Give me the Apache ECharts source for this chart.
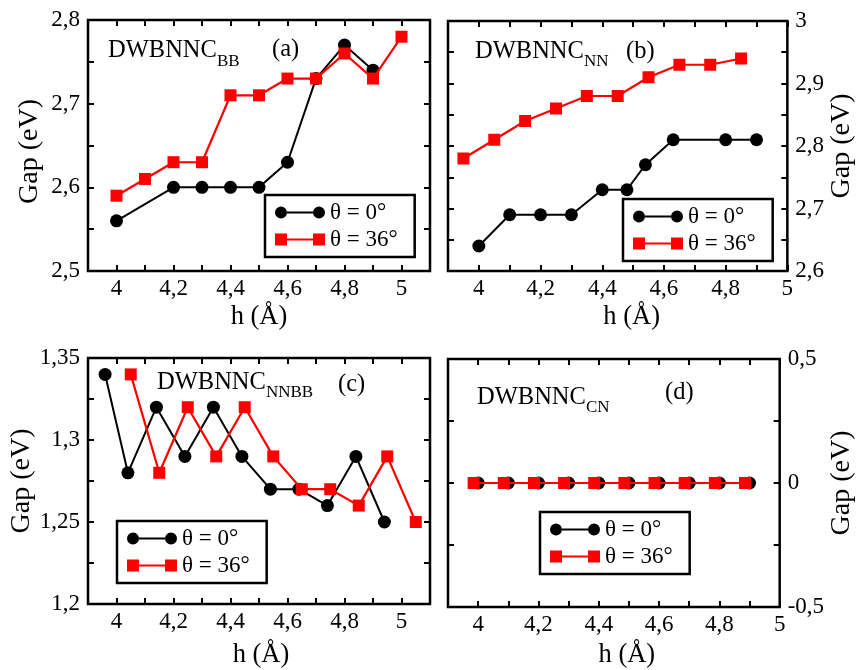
<!DOCTYPE html>
<html>
<head>
<meta charset="utf-8">
<script src="https://cdn.jsdelivr.net/npm/echarts@6/dist/echarts.min.js"></script>
<style>html,body{margin:0;padding:0;background:#fff;}#c{width:857px;height:670px;}</style>
</head>
<body>
<div id="c"></div>
<script>
// ---- data ----
const seriesNames = ['θ = 0°', 'θ = 36°'];
const xTickLabels = ['4', '4,2', '4,4', '4,6', '4,8', '5'];

// (a) DWBNNC_BB
const aX0 = [4.0, 4.2, 4.3, 4.4, 4.5, 4.6, 4.7, 4.8, 4.9];
const aY0 = [2.56, 2.60, 2.60, 2.60, 2.60, 2.63, 2.73, 2.77, 2.74];
const aX36 = [4.0, 4.1, 4.2, 4.3, 4.4, 4.5, 4.6, 4.7, 4.8, 4.9, 5.0];
const aY36 = [2.59, 2.61, 2.63, 2.63, 2.71, 2.71, 2.73, 2.73, 2.76, 2.73, 2.78];
const aYTickLabels = ['2,5', '2,6', '2,7', '2,8'];

// (b) DWBNNC_NN
const bX0 = [4.0, 4.1, 4.2, 4.3, 4.4, 4.48, 4.54, 4.63, 4.8, 4.9];
const bY0 = [2.64, 2.69, 2.69, 2.69, 2.73, 2.73, 2.77, 2.81, 2.81, 2.81];
const bX36 = [3.95, 4.05, 4.15, 4.25, 4.35, 4.45, 4.55, 4.65, 4.75, 4.85];
const bY36 = [2.78, 2.81, 2.84, 2.86, 2.88, 2.88, 2.91, 2.93, 2.93, 2.94];
const bYTickLabels = ['2,6', '2,7', '2,8', '2,9', '3'];

// (c) DWBNNC_NNBB
const cX0 = [3.96, 4.04, 4.14, 4.24, 4.34, 4.44, 4.54, 4.64, 4.74, 4.84, 4.94];
const cY0 = [1.34, 1.28, 1.32, 1.29, 1.32, 1.29, 1.27, 1.27, 1.26, 1.29, 1.25];
const cX36 = [4.05, 4.15, 4.25, 4.35, 4.45, 4.55, 4.65, 4.75, 4.85, 4.95, 5.05];
const cY36 = [1.34, 1.28, 1.32, 1.29, 1.32, 1.29, 1.27, 1.27, 1.26, 1.29, 1.25];
const cYTickLabels = ['1,2', '1,25', '1,3', '1,35'];

// (d) DWBNNC_CN
const dX0 = [4.0, 4.1, 4.2, 4.3, 4.4, 4.5, 4.6, 4.7, 4.8, 4.9];
const dY0 = [0, 0, 0, 0, 0, 0, 0, 0, 0, 0];
const dX36 = [3.985, 4.085, 4.185, 4.285, 4.385, 4.485, 4.585, 4.685, 4.785, 4.885];
const dY36 = [0, 0, 0, 0, 0, 0, 0, 0, 0, 0];
const dYTickLabels = ['-0,5', '0', '0,5'];

// ---- helpers ----
const FONT = '"Liberation Serif", "Times New Roman", serif';
const fmt = v => String(Math.round(v * 1000) / 1000).replace('.', ',');
const pick = labels => v => { const s = fmt(v); return labels.indexOf(s) >= 0 ? s : ''; };

const tick = { show: true, inside: true, length: 6, lineStyle: { color: '#000', width: 2 } };

function xAxisPair(gi, min, max, nameGap, namePad) {
  const base = {
    type: 'value', gridIndex: gi, min: min, max: max, interval: 0.1,
    axisLine: { show: false, onZero: false },
    axisTick: tick, splitLine: { show: false }
  };
  return [
    Object.assign({}, base, {
      position: 'bottom',
      axisLabel: { show: true, formatter: pick(xTickLabels), fontFamily: FONT, fontSize: 23, color: '#000', margin: 6, showMinLabel: true, showMaxLabel: true },
      name: 'h (Å)', nameLocation: 'middle', nameGap: nameGap,
      nameTextStyle: { fontFamily: FONT, fontSize: 26.5, color: '#000', padding: namePad }
    }),
    Object.assign({}, base, { position: 'top', axisLabel: { show: false } })
  ];
}

function yAxisPair(gi, min, max, interval, labels, side, nameGap, namePad) {
  const base = {
    type: 'value', gridIndex: gi, min: min, max: max, interval: interval,
    axisLine: { show: false, onZero: false },
    axisTick: tick, splitLine: { show: false }
  };
  const other = side === 'left' ? 'right' : 'left';
  return [
    Object.assign({}, base, {
      position: side,
      axisLabel: { show: true, formatter: pick(labels), fontFamily: FONT, fontSize: 23, color: '#000', margin: 8, showMinLabel: true, showMaxLabel: true },
      name: 'Gap (eV)', nameLocation: 'middle', nameGap: nameGap, nameRotate: 90,
      nameTextStyle: { fontFamily: FONT, fontSize: 28, color: '#000', padding: namePad }
    }),
    Object.assign({}, base, { position: other, axisLabel: { show: false } })
  ];
}

function pairs(xs, ys) { return xs.map((x, i) => [x, ys[i]]); }

function mkSeries(gi, xs0, ys0, xs36, ys36) {
  return [
    {
      name: seriesNames[0], type: 'line', xAxisIndex: gi * 2, yAxisIndex: gi * 2,
      data: pairs(xs0, ys0), symbol: 'circle', symbolSize: 13,
      itemStyle: { color: '#000' }, lineStyle: { color: '#000', width: 2 }, z: 2
    },
    {
      name: seriesNames[1], type: 'line', xAxisIndex: gi * 2, yAxisIndex: gi * 2,
      data: pairs(xs36, ys36), symbol: 'rect', symbolSize: 12,
      itemStyle: { color: '#ff0000' }, lineStyle: { color: '#ff0000', width: 2.2 }, z: 3
    }
  ];
}

const circIcon = 'path://M0,6A6,6,0,1,1,12,6A6,6,0,1,1,0,6ZM38,6A6,6,0,1,1,50,6A6,6,0,1,1,38,6ZM12,5L38,5L38,7L12,7Z';
const sqIcon = 'path://M0,0L12,0L12,12L0,12ZM38,0L50,0L50,12L38,12ZM12,5L38,5L38,7L12,7Z';

function mkLegend(left, top) {
  return {
    left: left, top: top, orient: 'vertical',
    data: [{ name: seriesNames[0], icon: circIcon }, { name: seriesNames[1], icon: sqIcon }],
    itemWidth: 50, itemHeight: 12, itemGap: 4, itemTextGap: 16,
    padding: [6, 17, 6, 10],
    borderColor: '#000', borderWidth: 2.5, borderRadius: 0,
    backgroundColor: '#fff',
    textStyle: { fontFamily: FONT, fontSize: 23, color: '#000' },
    selectedMode: false
  };
}

function mkTitle(x, y, main, sub, subShift) {
  return {
    type: 'text', x: x, y: y, z: 100,
    style: {
      text: '{m|' + main + '}{s|' + sub + '}',
      verticalAlign: 'middle', align: 'left',
      rich: {
        m: { fontFamily: FONT, fontSize: 24.5, fill: '#000', color: '#000' },
        s: { fontFamily: FONT, fontSize: 17, fill: '#000', color: '#000', padding: [subShift * 2, 0, 0, 0] }
      }
    }
  };
}
function mkTag(x, y, t) {
  return {
    type: 'text', x: x, y: y, z: 100,
    style: { text: t, font: '24.5px ' + FONT, fill: '#000', verticalAlign: 'middle', align: 'left' }
  };
}

const grids = [
  { left: 88, top: 20, width: 342, height: 251 },
  { left: 448, top: 21, width: 342, height: 250 },
  { left: 88, top: 358, width: 342, height: 250 },
  { left: 448, top: 359, width: 342, height: 249 }
].map(g => Object.assign(g, { show: true, borderColor: '#000', borderWidth: 2.5, backgroundColor: 'transparent' }));

const xAxis = [].concat(
  xAxisPair(0, 3.9, 5.1, 33, [0, 0, 0, 0]),
  xAxisPair(1, 3.9, 5.0, 33, [0, 0, 0, 28]),
  xAxisPair(2, 3.9, 5.1, 38, [0, 0, 0, 4]),
  xAxisPair(3, 3.9, 5.0, 35, [0, 0, 0, 26])
);
const yAxis = [].concat(
  yAxisPair(0, 2.5, 2.8, 0.05, aYTickLabels, 'left', 44, [0, 12, 0, 0]),
  yAxisPair(1, 2.6, 3.0, 0.05, bYTickLabels, 'right', 39, [0, 0, 0, 0]),
  yAxisPair(2, 1.2, 1.35, 0.025, cYTickLabels, 'left', 50, [0, 0, 0, 0]),
  yAxisPair(3, -0.5, 0.5, 0.25, dYTickLabels, 'right', 39, [0, 0, 0, 0])
);

const option = {
  backgroundColor: '#fff',
  animation: false,
  grid: grids,
  xAxis: xAxis,
  yAxis: yAxis,
  legend: [mkLegend(265, 195), mkLegend(623, 199), mkLegend(117, 521), mkLegend(540, 512)],
  series: [].concat(
    mkSeries(0, aX0, aY0, aX36, aY36),
    mkSeries(1, bX0, bY0, bX36, bY36),
    mkSeries(2, cX0, cY0, cX36, cY36),
    mkSeries(3, dX0, dY0, dX36, dY36)
  ),
  graphic: [
    mkTitle(108, 51, 'DWBNNC', 'BB', 11), mkTag(272, 50, '(a)'),
    mkTitle(475, 52, 'DWBNNC', 'NN', 10), mkTag(626, 52, '(b)'),
    mkTitle(157, 383, 'DWBNNC', 'NNBB', 10), mkTag(338, 385, '(c)'),
    mkTitle(477, 398, 'DWBNNC', 'CN', 10), mkTag(665, 393, '(d)')
  ]
};

const chart = echarts.init(document.getElementById('c'), null, { renderer: 'canvas' });
chart.setOption(option);
</script>
</body>
</html>
